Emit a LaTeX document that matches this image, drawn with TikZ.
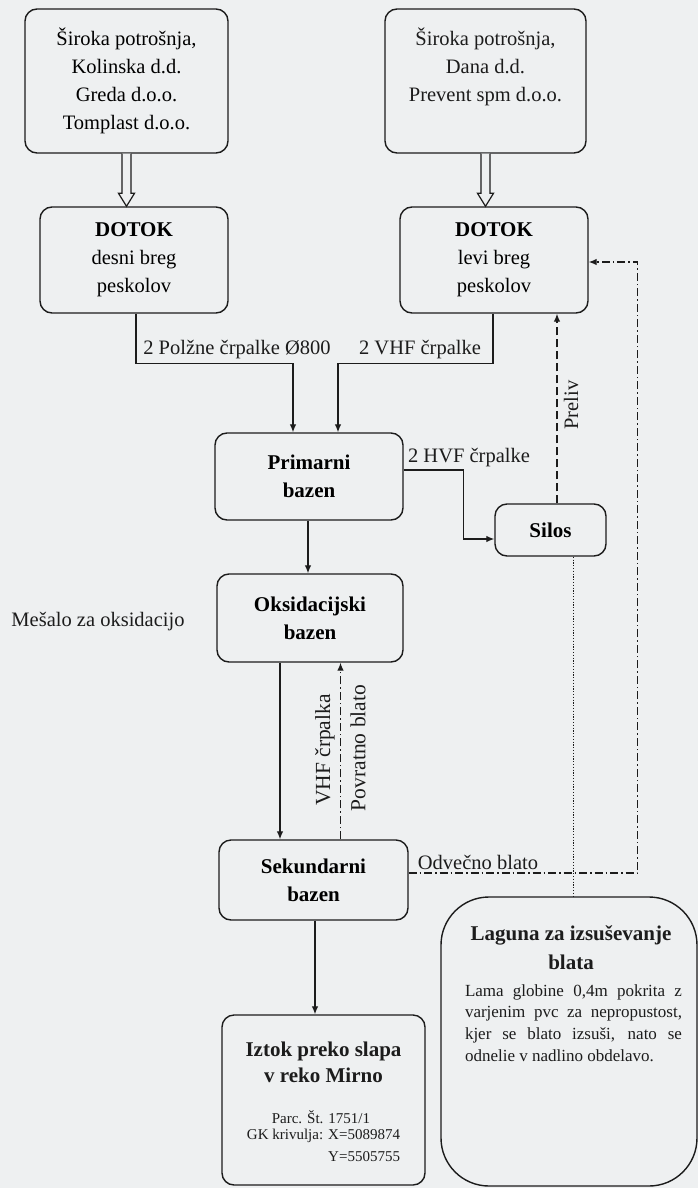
\documentclass[tikz,border=0pt]{standalone}
\usepackage{fontspec}
\setmainfont{Liberation Serif}
\usetikzlibrary{arrows.meta,calc}
\definecolor{bg}{RGB}{238,240,241}
\definecolor{ink}{RGB}{28,28,28}
\newcommand\fmain{\fontsize{20.5}{28}\selectfont}
\newcommand\fbig{\fontsize{21}{28}\selectfont\bfseries}
\newcommand\fsmall{\fontsize{15}{19}\selectfont}
\newcommand\fbody{\fontsize{17}{21.7}\selectfont}
\begin{document}
\begin{tikzpicture}[x=1pt,y=-1pt,
  box/.style={draw=ink, line width=1.4pt, rounded corners=12pt, fill=bg, inner sep=0pt, align=center, font=\fmain},
  txt/.style={inner sep=0pt, align=center, font=\fmain, text=ink},
  conn/.style={draw=ink, line width=1.2pt},
  arr/.style={conn, -{Latex[length=8pt,width=6.5pt]}},
  dasharr/.style={arr, dash pattern=on 8pt off 4pt},
  ddarr/.style={arr, dash pattern=on 8pt off 3pt on 1.5pt off 3pt},
  dotline/.style={conn, line width=1.1pt, dash pattern=on 1.2pt off 1.6pt},
  hollow/.style={draw=ink, line width=1.2pt, fill=bg, line join=miter}]
\useasboundingbox[fill=bg] (0,0) rectangle (698,1188);

% boxes
\node[box, minimum width=203pt, minimum height=144pt] (src1) at (126.5,81)
  {Široka potrošnja,\\Kolinska d.d.\\Greda d.o.o.\\Tomplast d.o.o.};
\node[box, minimum width=201pt, minimum height=144pt] (src2) at (485.5,81) {};
\node[txt] (src2t) at (485.5,67) {Široka potrošnja,\\Dana d.d.\\Prevent spm d.o.o.};

\node[box, minimum width=188pt, minimum height=106pt] (dotok1) at (134,260)
  {{\fbig DOTOK}\\desni breg\\peskolov};
\node[box, minimum width=188pt, minimum height=106pt] (dotok2) at (494,260)
  {{\fbig DOTOK}\\levi breg\\peskolov};

\node[box, font=\fbig, minimum width=188pt, minimum height=87pt] (prim) at (309,476.5)
  {Primarni\\bazen};
\node[box, font=\fbig, minimum width=111pt, minimum height=52pt] (silos) at (550.5,530) {Silos};
\node[box, font=\fbig, minimum width=186pt, minimum height=88pt] (oks) at (310,618)
  {Oksidacijski\\bazen};
\node[box, font=\fbig, minimum width=189pt, minimum height=80pt] (sek) at (313.5,880)
  {Sekundarni\\bazen};

\node[box, minimum width=203pt, minimum height=170pt] (iztok) at (323.5,1100) {};
\node[txt, font=\fontsize{21}{25.5}\selectfont\bfseries] (iztokT) at (323.5,1062.5) {Iztok preko slapa\\v reko Mirno};
\node[txt, font=\fsmall] (iztokA) at (321,1117) {Parc. Št. 1751/1};
\node[txt, font=\fsmall] (iztokB) at (323.5,1136) {GK krivulja: X=5089874};
\node[txt, font=\fsmall, anchor=east] (iztokC) at (iztokB.east |- 0,1157) {Y=5505755};

\node[draw=ink, line width=1.4pt, rounded corners=48pt, fill=bg, minimum width=256pt, minimum height=289pt, inner sep=0pt] (lagoon) at (569,1041.5) {};
\node[txt, font=\fontsize{21}{29}\selectfont\bfseries] (lagT) at (571,947.5) {Laguna za izsuševanje\\blata};
\node[txt] (lagB) at (573.5,1023) {\parbox{217pt}{\fbody
  \makebox[217pt][s]{Lama globine 0,4m pokrita z}\\
  \makebox[217pt][s]{varjenim pvc za nepropustost,}\\
  \makebox[217pt][s]{kjer se blato izsuši, nato se}\\
  \makebox[217pt][l]{odnelie v nadlino obdelavo.}}};

% labels
\node[txt] (lab1) at (237,350) {2 Polžne črpalke Ø800};
\node[txt] (lab2) at (420,350) {2 VHF črpalke};
\node[txt] (lab3) at (469,458) {2 HVF črpalke};
\node[txt, rotate=90] (labPre) at (571,405) {Preliv};
\node[txt] (labMes) at (98,622) {Mešalo za oksidacijo};
\node[txt, rotate=90, font=\fontsize{21.5}{28}\selectfont] (labVHF) at (325,750) {VHF črpalka};
\node[txt, rotate=90, font=\fontsize{21.5}{28}\selectfont] (labPov) at (358,748) {Povratno blato};
\node[txt] (labOdv) at (478,862) {Odvečno blato};

% hollow arrows
\coordinate (h1) at (src1.south |- dotok1.north);
\draw[hollow] ($(src1.south)+(-4.5,0)$) -- ($(h1)+(-4.5,-13)$) -- ($(h1)+(-8,-13)$) -- (h1)
  -- ($(h1)+(8,-13)$) -- ($(h1)+(4.5,-13)$) -- ($(src1.south)+(4.5,0)$);
\coordinate (h2) at (src2.south |- dotok2.north);
\draw[hollow] ($(src2.south)+(-4.5,0)$) -- ($(h2)+(-4.5,-13)$) -- ($(h2)+(-8,-13)$) -- (h2)
  -- ($(h2)+(8,-13)$) -- ($(h2)+(4.5,-13)$) -- ($(src2.south)+(4.5,0)$);

% connectors
\draw[arr] ($(dotok1.south)+(2,0)$) -- ++(0,50) -| ($(prim.north)+(-16,0)$);
\draw[arr] ($(dotok2.south)+(-1,0)$) -- ++(0,50) -| ($(prim.north)+(29,0)$);
\draw[arr] ($(prim.east)+(0,-6.5)$) -- ++(60,0) |- ($(silos.west)+(0,9)$);
\draw[dasharr] ($(silos.north)+(6.5,0)$) coordinate (p1) -- (p1 |- dotok2.south);
\draw[dotline] ($(silos.south)+(23,0)$) coordinate (d1) -- (d1 |- lagoon.north);
\draw[arr] ($(prim.south)+(-1,0)$) coordinate (p2) -- (p2 |- oks.north);
\draw[arr] ($(oks.south)+(-30,0)$) coordinate (p3) -- (p3 |- sek.north);
\draw[ddarr] ($(sek.north)+(27,0)$) coordinate (p4) -- (p4 |- oks.south);
\draw[ddarr] ($(sek.east)+(0,-7)$) -- ++(229,0) |- ($(dotok2.east)+(0,2)$);
\draw[arr] ($(sek.south)+(1.5,0)$) coordinate (p5) -- (p5 |- iztok.north);
\end{tikzpicture}
\end{document}
